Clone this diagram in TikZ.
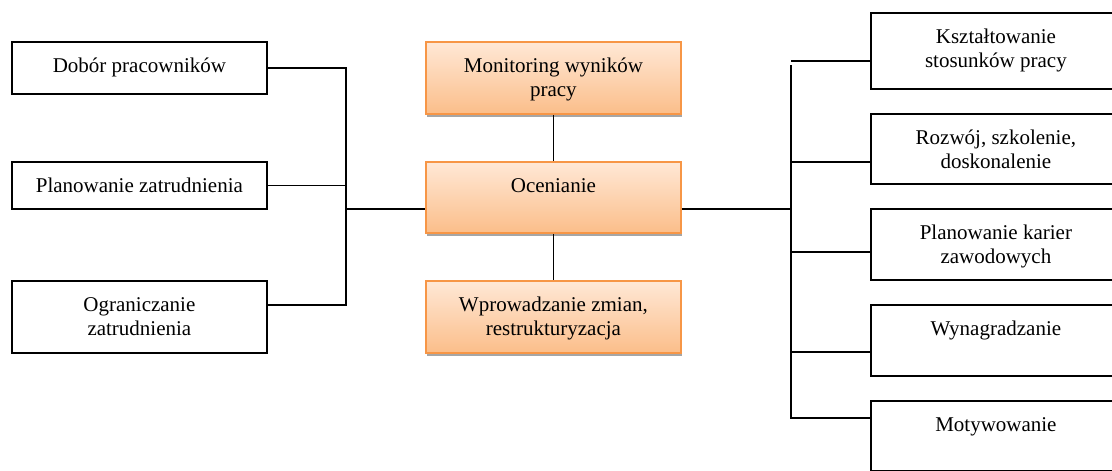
\documentclass[tikz,border=0pt]{standalone}
\usepackage{fontspec}
\setmainfont{Liberation Serif}
\usetikzlibrary{shadows}

\definecolor{accent}{HTML}{F79646}
\definecolor{shadetop}{HTML}{FFE8D6}
\definecolor{shadebot}{HTML}{FBBE8A}
\definecolor{shadowgray}{HTML}{A6A6A6}

\tikzset{
  plainbox/.style={draw=black, line width=1.8pt, fill=white, rectangle,
    inner sep=0pt, anchor=north west, minimum width=#1},
  plainbox/.default=255pt,
  orangebox/.style={draw=accent, line width=1.8pt, rectangle, inner sep=0pt,
    anchor=north west, minimum width=255pt,
    top color=shadetop, bottom color=shadebot,
    drop shadow={shadow xshift=1.5pt, shadow yshift=-3pt,
      fill=shadowgray, opacity=1}},
  caption/.style={anchor=north, inner sep=0pt, align=center,
    font=\fontsize{21}{24}\selectfont, yshift=-14.2pt},
  conn/.style={draw=black, line width=1.8pt},
}

\begin{document}
\begin{tikzpicture}[x=1pt, y=-1pt]
\useasboundingbox (0,0) rectangle (1112,471);
\begin{scope}
\clip (0,0) rectangle (1112,471);

% left column
\node[plainbox, minimum height=52pt] (dob) at (11,41) {};
\node[caption] (dobT) at (dob.north) {\strut Dobór pracowników};
\node[plainbox, minimum height=47pt] (plan) at (11,161) {};
\node[caption] (planT) at (plan.north) {\strut Planowanie zatrudnienia};
\node[plainbox, minimum height=72pt] (ogr) at (11,280) {};
\node[caption] (ogrT) at (ogr.north) {\strut Ograniczanie\\\strut zatrudnienia};

% central column
\node[orangebox, minimum height=72pt] (mon) at (425,41) {};
\node[caption] (monT) at (mon.north) {\strut Monitoring wyników\\\strut pracy};
\node[orangebox, minimum height=71pt] (oc) at (425,161) {};
\node[caption] (ocT) at (oc.north) {\strut Ocenianie};
\node[orangebox, minimum height=72pt] (wpr) at (425,280) {};
\node[caption] (wprT) at (wpr.north) {\strut Wprowadzanie zmian,\\\strut restrukturyzacja};

% right column
\node[plainbox=250pt, minimum height=76pt] (ksz) at (870,12) {};
\node[caption] (kszT) at (ksz.north) {\strut Kształtowanie\\\strut stosunków pracy};
\node[plainbox=250pt, minimum height=70pt] (roz) at (870,113) {};
\node[caption] (rozT) at (roz.north) {\strut Rozwój, szkolenie,\\\strut doskonalenie};
\node[plainbox=250pt, minimum height=71pt] (kar) at (870,208) {};
\node[caption] (karT) at (kar.north) {\strut Planowanie karier\\\strut zawodowych};
\node[plainbox=250pt, minimum height=71pt] (wyn) at (870,304) {};
\node[caption] (wynT) at (wyn.north) {\strut Wynagradzanie};
\node[plainbox=250pt, minimum height=70pt] (mot) at (870,400) {};
\node[caption] (motT) at (mot.north) {\strut Motywowanie};

% left bus
\coordinate (lbus) at (346,0);
\coordinate (ogrC) at ([yshift=12pt]ogr.east);
\coordinate (ocL) at ([yshift=-11.5pt]oc.west);
\draw[conn] (dob.east) -| (lbus |- ogrC) -- (ogrC);
\draw[conn] (plan.east) -- (lbus |- plan.east);
\draw[conn] (lbus |- ocL) -- (ocL);

% central links
\draw[conn] (mon.south) -- (oc.north);
\draw[conn] (oc.south) -- (wpr.north);

% right bus
\coordinate (rbus) at (791,0);
\coordinate (rtop) at (791,65);
\coordinate (ocR) at ([yshift=-11.5pt]oc.east);
\coordinate (kszC) at ([yshift=-10pt]ksz.west);
\coordinate (rozC) at ([yshift=-13pt]roz.west);
\coordinate (karC) at ([yshift=-7.5pt]kar.west);
\coordinate (wynC) at ([yshift=-11.5pt]wyn.west);
\coordinate (motC) at ([yshift=18pt]mot.west);
\draw[conn] (ocR) -- (rbus |- ocR);
\draw[conn] (kszC) -- (rbus |- kszC);
\draw[conn] (rtop) |- (motC);
\draw[conn] (rbus |- rozC) -- (rozC);
\draw[conn] (rbus |- karC) -- (karC);
\draw[conn] (rbus |- wynC) -- (wynC);
\end{scope}
\end{tikzpicture}
\end{document}
